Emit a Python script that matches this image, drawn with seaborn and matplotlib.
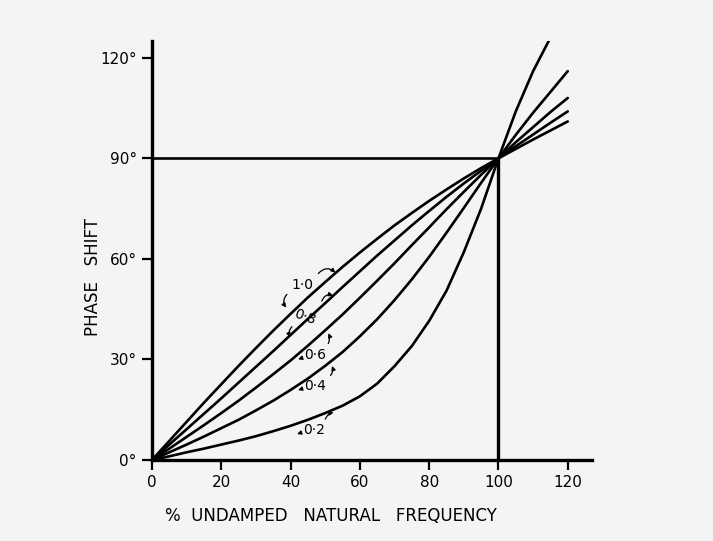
import numpy as np
import pandas as pd
import matplotlib
matplotlib.use("Agg")
import matplotlib.pyplot as plt
import seaborn as sns

# % of undamped natural frequency
freq = [0, 5, 10, 15, 20, 25, 30, 35, 40, 45, 50, 55, 60, 65, 70, 75, 80, 85, 90, 95,
        100, 105, 110, 115, 120]
# phase shift (degrees) per damping ratio
phase_02 = [0, 1.1, 2.3, 3.4, 4.6, 5.8, 7.1, 8.6, 10.2, 12.0, 14.0, 16.2, 19.0, 22.8, 28.0,
            34.0, 41.5, 50.5, 62.0, 75.0, 90, 104, 116, 126, np.nan]
phase_04 = [0, 2.3, 4.6, 7.0, 9.5, 12.0, 14.8, 17.7, 20.9, 24.3, 28.1, 32.2, 36.9, 42.0,
            47.7, 53.9, 60.6, 67.8, 75.2, 82.7, 90, 97.0, 103.6, 109.8, 116]
phase_06 = [0, 3.4, 6.9, 10.4, 14.0, 17.7, 21.6, 25.6, 29.7, 34.1, 38.7, 43.4, 48.4, 53.5,
            58.7, 64.1, 69.4, 74.8, 80.0, 85.1, 90, 94.8, 99.3, 103.8, 108]
phase_08 = [0, 4.6, 9.2, 13.8, 18.4, 23.1, 27.8, 32.5, 37.3, 42.1, 46.8, 51.6, 56.3, 61.0,
            65.5, 70.0, 74.3, 78.5, 82.5, 86.3, 90, 93.6, 97.1, 100.6, 104]
phase_10 = [0, 5.7, 11.4, 17.1, 22.6, 28.1, 33.4, 38.6, 43.6, 48.5, 53.1, 57.6, 61.9, 66.0,
            70.0, 73.7, 77.3, 80.7, 84.0, 87.1, 90, 92.8, 95.6, 98.3, 101]
damping = ["0·2", "0·4", "0·6", "0·8", "1·0"]
xticks = [0, 20, 40, 60, 80, 100, 120]
yticks = [0, 30, 60, 90, 120]
ytick_labels = ["0°", "30°", "60°", "90°", "120°"]

rows = []
for lab, vals in zip(damping, [phase_02, phase_04, phase_06, phase_08, phase_10]):
    for f, v in zip(freq, vals):
        if not np.isnan(v):
            rows.append({"freq": f, "phase": v, "damping": lab})
df = pd.DataFrame(rows)

sns.set_style("ticks")
plt.rcParams["font.family"] = ["DejaVu Sans"]
plt.rcParams["text.color"] = "black"
bg = "#f4f4f4"
fig = plt.figure(figsize=(7.13, 5.41), dpi=100, facecolor=bg)
ax = fig.add_axes([152 / 713, 81 / 541, 440 / 713, 419 / 541])
ax.set_facecolor(bg)

sns.lineplot(data=df, x="freq", y="phase", hue="damping",
             palette=["black"] * 5, linewidth=1.9, legend=False, ax=ax,
             sort=True, estimator=None)

# reference lines at 90° and 100 %
ax.plot([0, 100], [90, 90], color="black", lw=1.9, solid_capstyle="butt")
ax.plot([100, 100], [0, 90], color="black", lw=2.4, solid_capstyle="butt")

ax.set_xlim(0, 127)
ax.set_ylim(0, 125)
ax.set_xticks(xticks)
ax.set_xticklabels([str(t) for t in xticks], fontsize=11, color="black")
ax.set_yticks(yticks)
ax.set_yticklabels(ytick_labels, fontsize=11, color="black")
ax.tick_params(axis="both", direction="out", length=7, width=1.6, color="black", pad=4)
for s in ["top", "right"]:
    ax.spines[s].set_visible(False)
for s in ["left", "bottom"]:
    ax.spines[s].set_linewidth(2.4)
    ax.spines[s].set_color("black")
ax.set_xlabel("")
ax.set_ylabel("")

fig.text(93 / 713, 1 - 277 / 541, "PHASE   SHIFT", rotation=90, ha="center",
         va="center", fontsize=12, color="black")
fig.text(165 / 713, 1 - 516 / 541, "%  UNDAMPED   NATURAL   FREQUENCY", ha="left",
         va="center", fontsize=12, color="black")

# curve labels
lab_kw = dict(fontsize=10, ha="center", va="center", color="black")
ax.text(43.4, 52.2, "1·0", **lab_kw)
ax.text(44.2, 42.7, "0·8", rotation=-20, **lab_kw)
ax.text(47.0, 31.3, "0·6", **lab_kw)
ax.text(47.0, 22.1, "0·4", **lab_kw)
ax.text(46.7, 9.0, "0·2", **lab_kw)

arr = dict(arrowstyle="-|>", color="black", lw=0.9, mutation_scale=6)
def arrow(x0, y0, x1, y1, rad):
    ax.annotate("", xy=(x1, y1), xytext=(x0, y0),
                arrowprops=dict(connectionstyle=f"arc3,rad={rad}", **arr))

arrow(47.5, 55.0, 53.5, 55.3, -0.6)
arrow(39.5, 50.0, 39.2, 44.8, 0.5)
arrow(48.8, 46.6, 53.0, 48.8, -0.6)
arrow(41.0, 40.3, 40.4, 36.0, 0.5)
arrow(50.5, 34.0, 50.6, 38.6, 0.3)
arrow(51.0, 24.6, 51.6, 28.8, 0.4)
arrow(49.8, 11.4, 53.2, 14.2, -0.4)
arrow(43.5, 30.5, 41.4, 29.8, 0.0)
arrow(43.5, 21.3, 41.4, 20.6, 0.0)
arrow(43.2, 8.2, 41.1, 7.5, 0.0)

fig.savefig("out.png", dpi=100, facecolor=bg)
